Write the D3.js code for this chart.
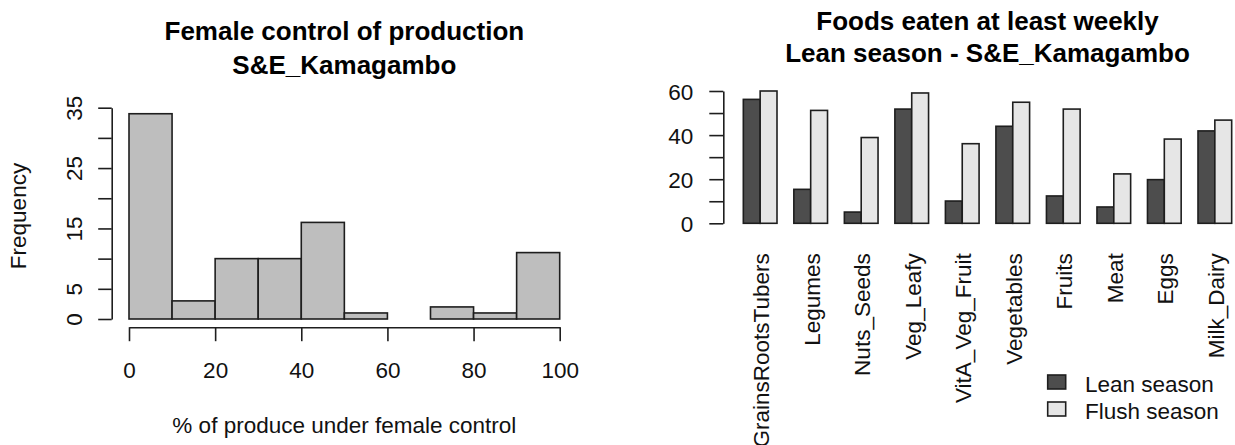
<!DOCTYPE html>
<html>
<head>
<meta charset="utf-8">
<script src="https://cdn.jsdelivr.net/npm/d3@7.9.0/dist/d3.min.js"></script>
<style>
  body { margin: 0; background: #fff; }
  svg { display: block; font-family: "Liberation Sans", Arial, sans-serif; }
</style>
</head>
<body>
<svg id="chart" width="1235" height="445"></svg>
<script>
// left panel: histogram of % produce under female control (10% bins)
const binEdges = [0, 10, 20, 30, 40, 50, 60, 70, 80, 90, 100];
const binCounts = [34, 3, 10, 10, 16, 1, 0, 2, 1, 11];
const histXTicks = [0, 20, 40, 60, 80, 100];
const histYTicks = [0, 5, 10, 15, 20, 25, 30, 35];
const histYLabels = [0, 5, 15, 25, 35];   // R skips the ones that would collide

// right panel: foods eaten at least weekly
const foods = ["GrainsRootsTubers", "Legumes", "Nuts_Seeds", "Veg_Leafy", "VitA_Veg_Fruit",
               "Vegetables", "Fruits", "Meat", "Eggs", "Milk_Dairy"];
const leanSeason  = [56.2, 15.4, 5.1, 51.8, 10.1, 44.0, 12.4, 7.4, 19.8, 41.9];
const flushSeason = [60.0, 51.2, 38.9, 59.1, 36.1, 54.9, 51.8, 22.4, 38.2, 46.8];
const seasons = ["Lean season", "Flush season"];
const seasonColors = ["#4D4D4D", "#E6E6E6"];
const barYTicks = [0, 10, 20, 30, 40, 50, 60];
const barYLabels = [0, 20, 40, 60];

const svg = d3.select("#chart");
const axisFont = 22.5;
const lineCol = "#1e1e1e";

function styleAxis(g) {
    g.attr("font-size", null).attr("font-family", null);
    g.selectAll("path, line").attr("stroke", lineCol).attr("stroke-width", 1.6);
    g.selectAll("text").attr("font-size", axisFont).attr("fill", "#111");
}

// ---------- histogram ----------
const hx = d3.scaleLinear().domain([0, 100]).range([129, 559.7]);
const hy = d3.scaleLinear().domain([0, 35]).range([319, 107.7]);
const histCenter = (111.7 + 577) / 2;

const bins = binCounts.map((c, i) => ({ x0: binEdges[i], x1: binEdges[i + 1], count: c }));

svg.append("g").selectAll("rect")
    .data(bins)
    .join("rect")
    .attr("x", d => hx(d.x0))
    .attr("width", d => hx(d.x1) - hx(d.x0))
    .attr("y", d => hy(d.count))
    .attr("height", d => hy(0) - hy(d.count))
    .attr("fill", "#BEBEBE")
    .attr("stroke", lineCol)
    .attr("stroke-width", 1.6);

svg.append("g")
    .attr("transform", "translate(0,327.2)")
    .call(d3.axisBottom(hx).tickValues(histXTicks).tickSize(14).tickSizeOuter(0))
    .call(styleAxis)
    .call(g => g.selectAll("text").attr("y", 51).attr("dy", 0));

svg.append("g")
    .attr("transform", "translate(111.7,0)")
    .call(d3.axisLeft(hy).tickValues(histYTicks).tickSize(13.5).tickSizeOuter(0)
        .tickFormat(d => histYLabels.includes(d) ? d : ""))
    .call(styleAxis)
    .call(g => g.selectAll("text")
        .attr("x", null).attr("dy", 0)
        .attr("text-anchor", "middle")
        .attr("transform", "translate(-29.7,0) rotate(-90)"));

svg.append("text")
    .attr("transform", "translate(26,216) rotate(-90)")
    .attr("text-anchor", "middle")
    .attr("font-size", axisFont)
    .attr("fill", "#111")
    .text("Frequency");

svg.append("text")
    .attr("x", histCenter).attr("y", 433)
    .attr("text-anchor", "middle")
    .attr("font-size", axisFont)
    .attr("fill", "#111")
    .text("% of produce under female control");

svg.append("g")
    .attr("font-size", 26).attr("font-weight", "bold").attr("text-anchor", "middle")
    .selectAll("text")
    .data(["Female control of production", "S&E_Kamagambo"])
    .join("text")
    .attr("x", histCenter)
    .attr("y", (d, i) => 40 + i * 34)
    .text(d => d);

// ---------- grouped bar chart ----------
const x0 = d3.scaleBand().domain(foods).range([734.9, 1240.1])
    .paddingInner(1 / 3).paddingOuter(1 / 6);
const x1 = d3.scaleBand().domain(seasons).range([0, x0.bandwidth()]);
const by = d3.scaleLinear().domain([0, 60]).range([223.3, 91]);
const barCenter = 987.5;

const rows = foods.map((f, i) => ({ food: f, values: [leanSeason[i], flushSeason[i]] }));

svg.append("g").selectAll("g")
    .data(rows)
    .join("g")
    .attr("transform", d => `translate(${x0(d.food)},0)`)
    .selectAll("rect")
    .data(d => d.values.map((v, j) => ({ season: seasons[j], value: v, color: seasonColors[j] })))
    .join("rect")
    .attr("x", d => x1(d.season))
    .attr("width", x1.bandwidth())
    .attr("y", d => by(d.value))
    .attr("height", d => by(0) - by(d.value))
    .attr("fill", d => d.color)
    .attr("stroke", lineCol)
    .attr("stroke-width", 1.6);

svg.append("g")
    .attr("transform", "translate(723.3,0)")
    .call(d3.axisLeft(by).tickValues(barYTicks).tickSize(14).tickSizeOuter(0).tickPadding(16)
        .tickFormat(d => barYLabels.includes(d) ? d : ""))
    .call(styleAxis)
    .call(g => g.selectAll("text").attr("dy", "0.36em"));

svg.append("g")
    .attr("font-size", axisFont).attr("fill", "#111").attr("text-anchor", "end")
    .selectAll("text")
    .data(foods)
    .join("text")
    .attr("transform", d => `translate(${x0(d) + x0.bandwidth() / 2},253.3) rotate(-90)`)
    .attr("dy", "0.4em")
    .text(d => d);

svg.append("g")
    .attr("font-size", 26).attr("font-weight", "bold").attr("text-anchor", "middle")
    .selectAll("text")
    .data(["Foods eaten at least weekly", "Lean season - S&E_Kamagambo"])
    .join("text")
    .attr("x", barCenter)
    .attr("y", (d, i) => 29.5 + i * 32)
    .text(d => d);

// legend
const legend = svg.append("g").attr("transform", "translate(1047.7,375)");
const items = legend.selectAll("g")
    .data(seasons)
    .join("g")
    .attr("transform", (d, i) => `translate(0,${i * 27})`);
items.append("rect")
    .attr("width", 18).attr("height", 14)
    .attr("fill", (d, i) => seasonColors[i])
    .attr("stroke", lineCol).attr("stroke-width", 1.6);
items.append("text")
    .attr("x", 37.3).attr("y", 16.5)
    .attr("font-size", axisFont).attr("fill", "#111")
    .text(d => d);
</script>
</body>
</html>
